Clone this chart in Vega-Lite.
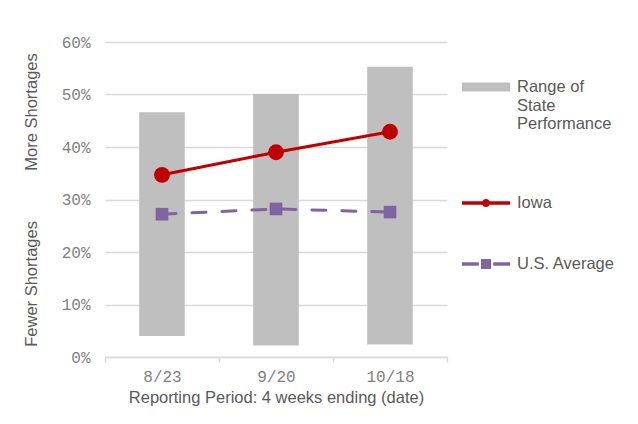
{
  "$schema": "https://vega.github.io/schema/vega-lite/v6.json",
  "width": 342,
  "height": 315,
  "autosize": {"type": "none"},
  "padding": {"left": 105, "top": 42, "right": 191, "bottom": 67},
  "background": "white",
  "datasets": {
    "ranges": [
      {"period": "8/23", "low": 0.040, "high": 0.466},
      {"period": "9/20", "low": 0.022, "high": 0.501},
      {"period": "10/18", "low": 0.024, "high": 0.553}
    ],
    "series": [
      {"period": "8/23", "series": "Iowa", "value": 0.347},
      {"period": "9/20", "series": "Iowa", "value": 0.390},
      {"period": "10/18", "series": "Iowa", "value": 0.429},
      {"period": "8/23", "series": "U.S. Average", "value": 0.272},
      {"period": "9/20", "series": "U.S. Average", "value": 0.282},
      {"period": "10/18", "series": "U.S. Average", "value": 0.276}
    ]
  },
  "config": {
    "view": {"stroke": null},
    "axis": {
      "labelFont": "Liberation Mono",
      "labelFontSize": 16,
      "labelColor": "#7f7f7f",
      "titleFont": "Liberation Sans",
      "titleFontSize": 16.5,
      "titleFontWeight": "normal",
      "titleColor": "#595959",
      "gridColor": "#d9d9d9",
      "gridWidth": 1.5,
      "domainColor": "#d9d9d9",
      "domainWidth": 1.5,
      "tickColor": "#d9d9d9",
      "tickWidth": 1.5
    }
  },
  "layer": [
    {
      "data": {"name": "ranges"},
      "mark": {"type": "bar", "width": {"band": 0.4}},
      "encoding": {
        "x": {
          "field": "period",
          "type": "ordinal",
          "sort": ["8/23", "9/20", "10/18"],
          "scale": {"paddingInner": 0, "paddingOuter": 0},
          "axis": {
            "title": "Reporting Period: 4 weeks ending (date)",
            "labelAngle": 0,
            "tickBand": "extent",
            "tickSize": 5,
            "labelPadding": 6,
            "titlePadding": 5,
            "grid": false
          }
        },
        "y": {
          "field": "low",
          "type": "quantitative",
          "scale": {"domain": [0, 0.6]},
          "axis": {
            "title": "Fewer Shortages\u00a0\u00a0\u00a0\u00a0\u00a0\u00a0\u00a0\u00a0\u00a0\u00a0\u00a0More Shortages",
            "values": [0, 0.1, 0.2, 0.3, 0.4, 0.5, 0.6],
            "format": ".0%",
            "domain": false,
            "ticks": false,
            "labelPadding": 15,
            "titlePadding": 22
          }
        },
        "y2": {"field": "high"},
        "color": {
          "datum": "Range of State Performance",
          "type": "nominal",
          "title": null,
          "scale": {
            "domain": ["Range of State Performance", "Iowa", "U.S. Average"],
            "range": ["#bfbfbf", "#c00000", "#8064a2"]
          },
          "legend": {
            "title": null,
            "orient": "none",
            "legendX": 357,
            "legendY": 21,
            "labelFont": "Liberation Sans",
            "labelFontSize": 16.5,
            "labelColor": "#595959",
            "labelLimit": 300,
            "labelOffset": 7,
            "rowPadding": 28,
            "symbolSize": 2304,
            "labelExpr": "datum.label === 'Range of State Performance' ? ['Range of', 'State', 'Performance', ''] : datum.label",
            "encode": {
              "symbols": {
                "update": {
                  "shape": {"signal": "datum.value === 'Iowa' ? 'M-1,-0.07H1V0.07H-1Z M-0.17,0A0.17,0.17 0 1,1 0.17,0A0.17,0.17 0 1,1 -0.17,0Z' : datum.value === 'U.S. Average' ? 'M-1,-0.07H-0.3V0.07H-1Z M-0.21,-0.21H0.21V0.21H-0.21Z M0.3,-0.07H1V0.07H0.3Z' : 'M-1,-0.19H1V0.19H-1Z'"},
                  "fill": {"scale": "color", "field": "value"},
                  "fillOpacity": {"value": 1},
                  "opacity": {"value": 1},
                  "strokeWidth": {"value": 0},
                  "size": {"value": 2304}
                }
              }
            }
          }
        }
      }
    },
    {
      "data": {"name": "series"},
      "mark": {"type": "line", "strokeWidth": 3, "strokeCap": "round"},
      "encoding": {
        "x": {"field": "period", "type": "ordinal", "sort": ["8/23", "9/20", "10/18"]},
        "y": {"field": "value", "type": "quantitative"},
        "color": {"field": "series", "type": "nominal", "title": null},
        "strokeDash": {
          "field": "series",
          "type": "nominal",
          "scale": {"domain": ["Iowa", "U.S. Average"], "range": [[1, 0], [14, 16]]},
          "legend": null
        }
      }
    },
    {
      "data": {"name": "series"},
      "mark": {"type": "point", "filled": true, "opacity": 1},
      "encoding": {
        "x": {"field": "period", "type": "ordinal", "sort": ["8/23", "9/20", "10/18"]},
        "y": {"field": "value", "type": "quantitative"},
        "color": {"field": "series", "type": "nominal", "title": null},
        "shape": {
          "field": "series",
          "type": "nominal",
          "scale": {"domain": ["Iowa", "U.S. Average"], "range": ["circle", "square"]},
          "legend": null
        },
        "size": {
          "field": "series",
          "type": "nominal",
          "scale": {"domain": ["Iowa", "U.S. Average"], "range": [250, 160]},
          "legend": null
        }
      }
    }
  ]
}
